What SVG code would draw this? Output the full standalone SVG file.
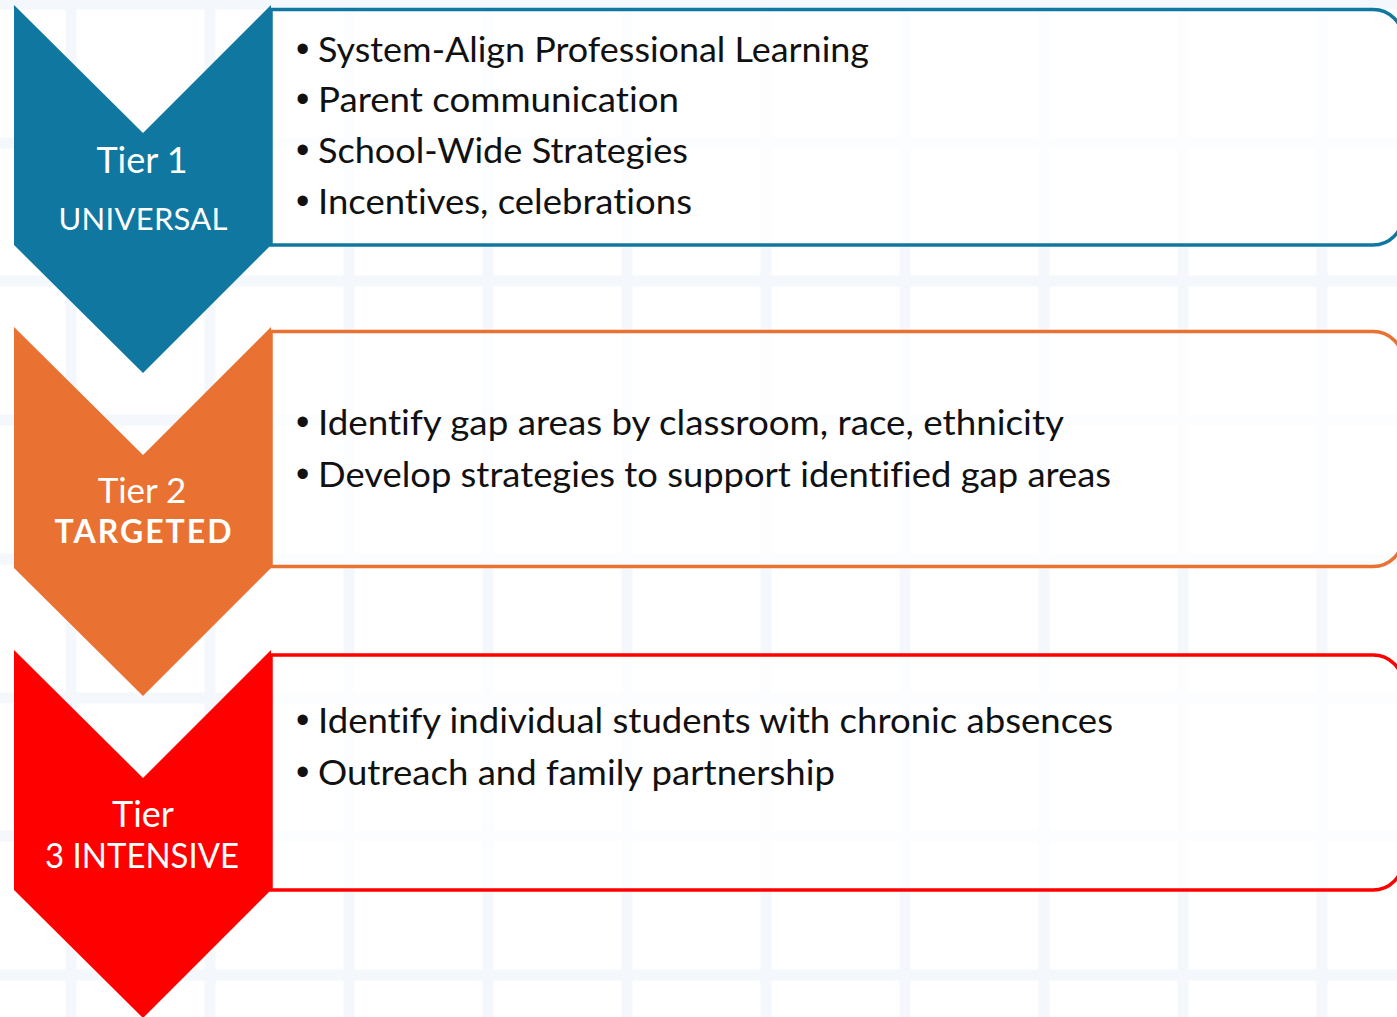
<svg xmlns="http://www.w3.org/2000/svg" width="1397" height="1017" viewBox="0 0 1397 1017">
<style>
.grid line{stroke:#f4f8fc;stroke-width:11}
.box{fill:#ffffff;fill-opacity:0.75;stroke-width:3.5}
.item{font-family:Lato,"Open Sans","Liberation Sans",sans-serif;font-size:34px;fill:#111111;font-variant-ligatures:none;font-feature-settings:"liga" 0,"clig" 0,"dlig" 0,"calt" 0}
.bul{font-family:"Liberation Sans",Arial,sans-serif;font-size:38px;fill:#111111}
.lbl{font-family:Lato,"Open Sans","Liberation Sans",sans-serif;fill:#ffffff;text-anchor:middle}
</style>
<rect x="0" y="0" width="1397" height="1017" fill="#ffffff"/>
<g class="grid">
<line x1="71" y1="0" x2="71" y2="1017"/><line x1="210" y1="0" x2="210" y2="1017"/><line x1="349" y1="0" x2="349" y2="1017"/><line x1="488" y1="0" x2="488" y2="1017"/><line x1="627" y1="0" x2="627" y2="1017"/><line x1="766" y1="0" x2="766" y2="1017"/><line x1="905" y1="0" x2="905" y2="1017"/><line x1="1044" y1="0" x2="1044" y2="1017"/><line x1="1183" y1="0" x2="1183" y2="1017"/><line x1="1322" y1="0" x2="1322" y2="1017"/>
<line x1="0" y1="4" x2="1397" y2="4"/><line x1="0" y1="143" x2="1397" y2="143"/><line x1="0" y1="281" x2="1397" y2="281"/><line x1="0" y1="420" x2="1397" y2="420"/><line x1="0" y1="559" x2="1397" y2="559"/><line x1="0" y1="698" x2="1397" y2="698"/><line x1="0" y1="836" x2="1397" y2="836"/><line x1="0" y1="975" x2="1397" y2="975"/>
</g>
<g id="connectors"></g>
<g id="tier1">
<path class="box" d="M271,9.5 H1373 A30,30 0 0 1 1403,39.5 V215 A30,30 0 0 1 1373,245 H271 Z" stroke="#0f77a0"/>
<path d="M14,5 L143,133 L271,5 L271,245 L143,373 L14,245 Z" fill="#0f77a0"/>
<text class="lbl" x="142" y="173" font-size="36">Tier 1</text>
<text class="lbl" x="143" y="230" font-size="31" textLength="169" lengthAdjust="spacing">UNIVERSAL</text>
<text class="bul" x="296" y="62">•</text>
<text class="item" x="318" y="62" textLength="551" lengthAdjust="spacingAndGlyphs">System-Align Professional  Learning</text>
<text class="bul" x="296" y="112">•</text>
<text class="item" x="318" y="112" textLength="361" lengthAdjust="spacingAndGlyphs">Parent communication</text>
<text class="bul" x="296" y="163">•</text>
<text class="item" x="318" y="163" textLength="370" lengthAdjust="spacingAndGlyphs">School-Wide  Strategies</text>
<text class="bul" x="296" y="214">•</text>
<text class="item" x="318" y="214" textLength="374" lengthAdjust="spacingAndGlyphs">Incentives, celebrations</text>
</g>
<g id="tier2">
<path class="box" d="M271,331.5 H1373 A30,30 0 0 1 1403,361.5 V536.5 A30,30 0 0 1 1373,566.5 H271 Z" stroke="#e97132"/>
<path d="M14,327 L143,455 L271,327 L271,568 L143,696 L14,568 Z" fill="#e97132"/>
<text class="lbl" x="142" y="503" font-size="35">Tier 2</text>
<text class="lbl" x="143" y="543" font-size="32" font-weight="bold" textLength="177" lengthAdjust="spacing">TARGETED</text>
<text class="bul" x="296" y="435">•</text>
<text class="item" x="318" y="435" textLength="746" lengthAdjust="spacingAndGlyphs">Identify gap areas by classroom, race, ethnicity</text>
<text class="bul" x="296" y="487">•</text>
<text class="item" x="318" y="487" textLength="793" lengthAdjust="spacingAndGlyphs">Develop strategies to support identified gap areas</text>
</g>
<g id="tier3">
<path class="box" d="M271,655 H1373 A30,30 0 0 1 1403,685 V860 A30,30 0 0 1 1373,890 H271 Z" stroke="#ff0000"/>
<path d="M14,650 L143,778 L271,650 L271,890 L143,1018 L14,890 Z" fill="#ff0000"/>
<text class="lbl" x="143" y="827" font-size="36">Tier</text>
<text class="lbl" x="142" y="868" font-size="35" textLength="194" lengthAdjust="spacingAndGlyphs">3  INTENSIVE</text>
<text class="bul" x="296" y="733">•</text>
<text class="item" x="318" y="733" textLength="795" lengthAdjust="spacingAndGlyphs">Identify individual  students with chronic absences</text>
<text class="bul" x="296" y="785">•</text>
<text class="item" x="318" y="785" textLength="517" lengthAdjust="spacingAndGlyphs">Outreach and family partnership</text>
</g>
</svg>
